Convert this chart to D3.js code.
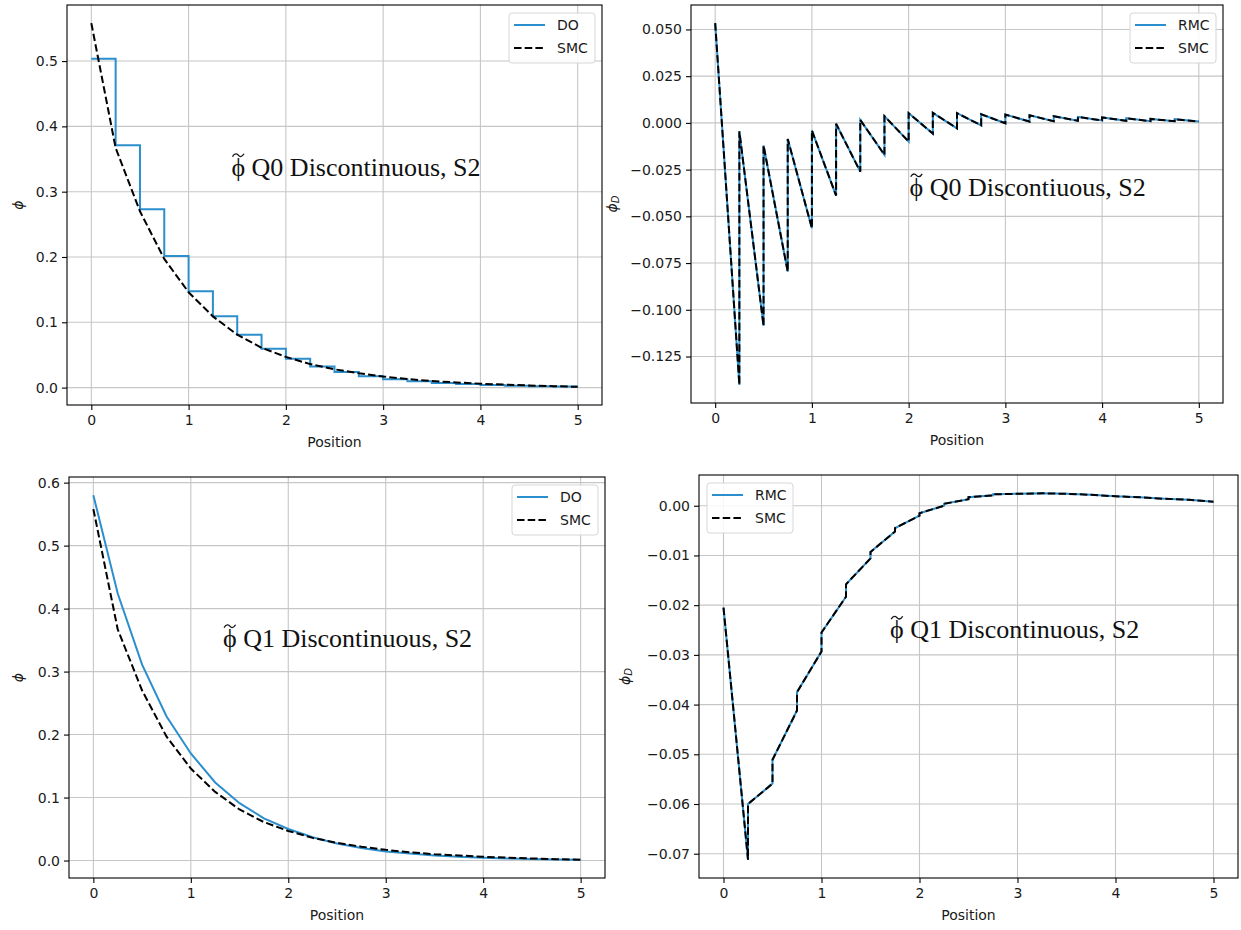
<!DOCTYPE html>
<html>
<head>
<meta charset="utf-8">
<script src="https://cdn.jsdelivr.net/npm/d3@7"></script>
<style>
  body { margin: 0; background: #ffffff; }
  svg { display: block; }
  .tick text { font-family: "DejaVu Sans", sans-serif; font-size: 14px; fill: #1a1a1a; }
</style>
</head>
<body>
<svg id="fig" width="1241" height="930"></svg>
<script>
// ---- data -------------------------------------------------------------
// cell edges of the 20-cell spatial mesh on [0, 5]
const cellEdges = [0, 0.25, 0.5, 0.75, 1, 1.25, 1.5, 1.75, 2, 2.25, 2.5,
                   2.75, 3, 3.25, 3.5, 3.75, 4, 4.25, 4.5, 4.75, 5];

// reference scalar flux (SMC) at the cell edges
const smcPhi = [0.558, 0.367, 0.270, 0.197, 0.146, 0.109, 0.081, 0.061, 0.047, 0.036,
                0.028, 0.022, 0.017, 0.013, 0.010, 0.008, 0.006, 0.0045, 0.0033, 0.0022, 0.0012];

// Q0 discontinuous: DO cell averages (piecewise constant)
const q0DoCell = [0.5035, 0.3712, 0.2730, 0.2014, 0.1477, 0.1094, 0.0808, 0.0593, 0.0440, 0.0322,
                  0.0240, 0.0174, 0.0128, 0.0097, 0.0072, 0.0057, 0.0041, 0.0030, 0.0021, 0.0015];

// Q0 discontinuous: phi_D, value at the left and right end of each cell
const q0DLeft  = [0.0534, -0.0045, -0.0121, -0.0086, -0.0041, -0.0005, 0.0016, 0.0036, 0.0052, 0.0054,
                  0.0052, 0.0046, 0.0045, 0.0041, 0.0036, 0.0032, 0.0029, 0.0025, 0.0021, 0.0020];
const q0DRight = [-0.1402, -0.1086, -0.0796, -0.0564, -0.0389, -0.0261, -0.0171, -0.0100, -0.0057, -0.0029,
                  -0.0013, -0.0002, 0.0007, 0.0009, 0.0011, 0.0013, 0.0011, 0.0009, 0.0009, 0.0007];

// Q1 discontinuous: DO flux at the cell edges
const q1DoPhi = [0.580, 0.424, 0.311, 0.229, 0.170, 0.124, 0.091, 0.067, 0.050, 0.037,
                 0.027, 0.020, 0.0145, 0.011, 0.008, 0.006, 0.0045, 0.0033, 0.0025, 0.0018, 0.0013];

// Q1 discontinuous: phi_D, value at the left and right end of each cell
const q1DLeft  = [-0.0205, -0.0600, -0.0511, -0.0375, -0.0255, -0.0158, -0.0093, -0.0045, -0.0015, 0.0004,
                  0.0017, 0.0023, 0.0024, 0.0025, 0.0024, 0.0022, 0.0019, 0.0017, 0.0014, 0.0012];
const q1DRight = [-0.0712, -0.0559, -0.0412, -0.0293, -0.0183, -0.0106, -0.0052, -0.0020, 0.0000, 0.0013,
                  0.0021, 0.0024, 0.0025, 0.0024, 0.0022, 0.0019, 0.0017, 0.0014, 0.0012, 0.0008];

// tick values
const xTicks    = [0, 1, 2, 3, 4, 5];
const phiTicksA = [0.0, 0.1, 0.2, 0.3, 0.4, 0.5];
const phiTicksB = [0.0, 0.1, 0.2, 0.3, 0.4, 0.5, 0.6];
const dTicksA   = [0.050, 0.025, 0.000, -0.025, -0.050, -0.075, -0.100, -0.125];
const dTicksB   = [0.00, -0.01, -0.02, -0.03, -0.04, -0.05, -0.06, -0.07];

// panel annotations
const notes = [
  { label: "Q0 Discontinuous, S2", x: 1.44, y: 0.324 },
  { label: "Q0 Discontiuous, S2",  x: 2.01, y: -0.0392 },
  { label: "Q1 Discontinuous, S2", x: 1.33, y: 0.339 },
  { label: "Q1 Discontinuous, S2", x: 1.70, y: -0.0267 }
];

// ---- helpers ----------------------------------------------------------
const BLUE = "#2b8fcd";
const svg = d3.select("#fig");

const edgePoints = (vals) => vals.map((v, i) => [cellEdges[i], v]);
const cellPoints = (left, right) => left.flatMap((v, i) => [[cellEdges[i], v], [cellEdges[i + 1], right[i]]]);

// matplotlib-style 5% autoscale margins
function padded(lo, hi) { const m = (hi - lo) * 0.05; return [lo - m, hi + m]; }

// serif annotation "phi-tilde <label>"
function drawNote(g, px, py, label) {
  const fs = 26;
  const serif = "'Liberation Serif', 'DejaVu Serif', serif";
  const phi = g.append("text").attr("x", px).attr("y", py)
    .style("font-family", serif).style("font-size", fs + "px").attr("fill", "#111")
    .text("\u03D5");
  const w = phi.node().getComputedTextLength();
  // tilde accent over the phi
  const cx = px + w / 2, ty = py - fs * 0.80, hw = w * 0.42, amp = fs * 0.055;
  g.append("path")
    .attr("d", `M${cx - hw},${ty + amp} C${cx - hw * 0.55},${ty - amp * 2.2} ${cx - hw * 0.1},${ty - amp * 0.6} ${cx},${ty}` +
               ` S${cx + hw * 0.55},${ty + amp * 2.2} ${cx + hw},${ty - amp}`)
    .attr("fill", "none").attr("stroke", "#111").attr("stroke-width", 1.3);
  g.append("text").attr("x", px + w + fs * 0.25).attr("y", py)
    .style("font-family", serif).style("font-size", fs + "px").attr("fill", "#111")
    .text(label);
}

function drawPanel(cfg) {
  const { box, series, yTicks, yFmt, ylabel, ylabelX, legend, note } = cfg;
  const g = svg.append("g");

  const allY = series.flatMap(s => s.points.map(p => p[1]));
  const x = d3.scaleLinear().domain(padded(0, 5)).range([box.l, box.r]);
  const y = d3.scaleLinear().domain(padded(d3.min(allY), d3.max(allY))).range([box.b, box.t]);

  // grid
  const grid = g.append("g").attr("stroke", "#c6c6c6").attr("stroke-width", 1.1);
  grid.selectAll("line.gx").data(xTicks).join("line")
    .attr("x1", d => x(d)).attr("x2", d => x(d)).attr("y1", box.t).attr("y2", box.b);
  grid.selectAll("line.gy").data(yTicks).join("line")
    .attr("x1", box.l).attr("x2", box.r).attr("y1", d => y(d)).attr("y2", d => y(d));

  // clip for data
  const cid = "clip" + Math.round(box.l) + "_" + Math.round(box.t);
  g.append("clipPath").attr("id", cid).append("rect")
    .attr("x", box.l).attr("y", box.t).attr("width", box.r - box.l).attr("height", box.b - box.t);

  const line = d3.line().x(p => x(p[0])).y(p => y(p[1]));
  const lines = g.append("g").attr("clip-path", `url(#${cid})`);
  series.forEach(s => {
    lines.append("path")
      .attr("d", line(s.points))
      .attr("fill", "none")
      .attr("stroke", s.color)
      .attr("stroke-width", 2)
      .attr("stroke-linejoin", "miter")
      .attr("stroke-dasharray", s.dashed ? "7.5,3.2" : null);
  });

  // axes
  const ax = g.append("g").attr("transform", `translate(0,${box.b})`)
    .call(d3.axisBottom(x).tickValues(xTicks).tickFormat(d3.format("d")).tickSize(5).tickPadding(5));
  const ay = g.append("g").attr("transform", `translate(${box.l},0)`)
    .call(d3.axisLeft(y).tickValues(yTicks).tickFormat(yFmt).tickSize(5).tickPadding(4));
  [ax, ay].forEach(a => {
    a.select(".domain").remove();
    a.selectAll(".tick line").attr("stroke", "#000").attr("stroke-width", 1.1);
  });

  // frame
  g.append("rect").attr("x", box.l).attr("y", box.t)
    .attr("width", box.r - box.l).attr("height", box.b - box.t)
    .attr("fill", "none").attr("stroke", "#000").attr("stroke-width", 1.1);

  // axis labels
  g.append("text").attr("x", (box.l + box.r) / 2).attr("y", box.b + 42)
    .attr("text-anchor", "middle")
    .style("font-family", "'DejaVu Sans', sans-serif").style("font-size", "14px").attr("fill", "#1a1a1a")
    .text("Position");

  const yl = g.append("text")
    .attr("transform", `translate(${ylabelX},${(box.t + box.b) / 2}) rotate(-90)`)
    .attr("text-anchor", "middle").attr("dominant-baseline", "central")
    .style("font-family", "'DejaVu Sans', sans-serif").style("font-size", "14px").attr("fill", "#1a1a1a");
  yl.append("tspan").style("font-style", "italic").text("\u03D5");
  if (ylabel === "phiD") {
    yl.append("tspan").style("font-style", "italic").style("font-size", "10px")
      .attr("dy", 3).text("D");
  }

  // annotation
  drawNote(g, x(note.x), y(note.y), note.label);

  // legend
  const lw = 86, lh = 50;
  const lx = legend.side === "right" ? box.r - 7 - lw : box.l + 8;
  const ly = box.t + 8;
  const lg = g.append("g");
  lg.append("rect").attr("x", lx).attr("y", ly).attr("width", lw).attr("height", lh)
    .attr("rx", 3).attr("fill", "#fff").attr("fill-opacity", 0.85)
    .attr("stroke", "#d6d6d6").attr("stroke-width", 1);
  legend.items.forEach((it, i) => {
    const cy = ly + 12 + i * 23;
    lg.append("line").attr("x1", lx + 5).attr("x2", lx + 36).attr("y1", cy).attr("y2", cy)
      .attr("stroke", it.color).attr("stroke-width", 2)
      .attr("stroke-dasharray", it.dashed ? "7.5,3.2" : null);
    lg.append("text").attr("x", lx + 48).attr("y", cy).attr("dominant-baseline", "central")
      .style("font-family", "'DejaVu Sans', sans-serif").style("font-size", "14px").attr("fill", "#1a1a1a")
      .text(it.label);
  });
}

const fmt1 = d3.format(".1f"), fmt3 = d3.format(".3f"), fmt2 = d3.format(".2f");

// top-left: Q0 flux
drawPanel({
  box: { l: 67, r: 602, t: 5, b: 405 },
  series: [
    { points: cellPoints(q0DoCell, q0DoCell), color: BLUE },
    { points: edgePoints(smcPhi), color: "#000", dashed: true }
  ],
  yTicks: phiTicksA, yFmt: fmt1, ylabel: "phi", ylabelX: 18,
  legend: { side: "right", items: [{ label: "DO", color: BLUE }, { label: "SMC", color: "#000", dashed: true }] },
  note: notes[0]
});

// top-right: Q0 phi_D
drawPanel({
  box: { l: 691, r: 1223, t: 5, b: 403 },
  series: [
    { points: cellPoints(q0DLeft, q0DRight), color: BLUE },
    { points: cellPoints(q0DLeft, q0DRight), color: "#000", dashed: true }
  ],
  yTicks: dTicksA, yFmt: fmt3, ylabel: "phiD", ylabelX: 612,
  legend: { side: "right", items: [{ label: "RMC", color: BLUE }, { label: "SMC", color: "#000", dashed: true }] },
  note: notes[1]
});

// bottom-left: Q1 flux
drawPanel({
  box: { l: 69, r: 605, t: 477, b: 878 },
  series: [
    { points: edgePoints(q1DoPhi), color: BLUE },
    { points: edgePoints(smcPhi), color: "#000", dashed: true }
  ],
  yTicks: phiTicksB, yFmt: fmt1, ylabel: "phi", ylabelX: 18,
  legend: { side: "right", items: [{ label: "DO", color: BLUE }, { label: "SMC", color: "#000", dashed: true }] },
  note: notes[2]
});

// bottom-right: Q1 phi_D
drawPanel({
  box: { l: 699, r: 1238, t: 475, b: 878 },
  series: [
    { points: cellPoints(q1DLeft, q1DRight), color: BLUE },
    { points: cellPoints(q1DLeft, q1DRight), color: "#000", dashed: true }
  ],
  yTicks: dTicksB, yFmt: fmt2, ylabel: "phiD", ylabelX: 625,
  legend: { side: "left", items: [{ label: "RMC", color: BLUE }, { label: "SMC", color: "#000", dashed: true }] },
  note: notes[3]
});
</script>
</body>
</html>
